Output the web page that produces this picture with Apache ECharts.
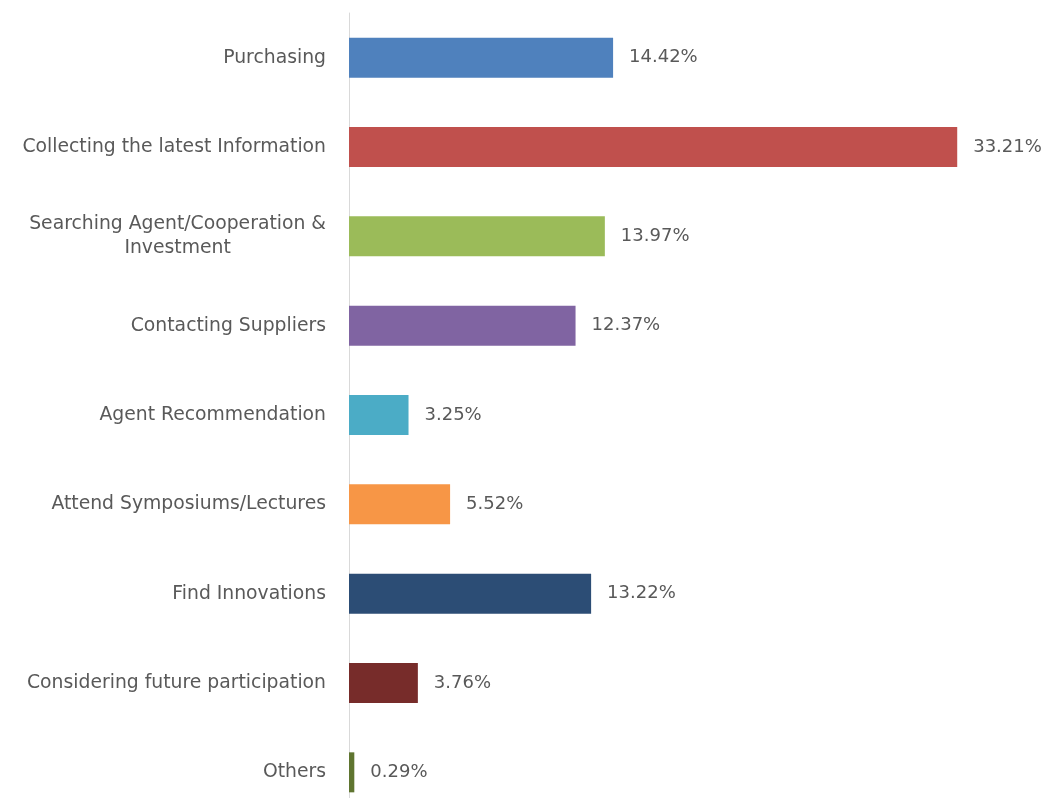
<!DOCTYPE html>
<html>
<head>
<meta charset="utf-8">
<script src="https://cdn.jsdelivr.net/npm/echarts@6/dist/echarts.min.js"></script>
<style>
html,body{margin:0;padding:0;background:#fff;}
#chart{width:1048px;height:798px;}
</style>
</head>
<body>
<div id="chart"></div>
<script>
const categories = [
  "Purchasing",
  "Collecting the latest Information",
  "Searching Agent/Cooperation &\nInvestment",
  "Contacting Suppliers",
  "Agent Recommendation",
  "Attend Symposiums/Lectures",
  "Find Innovations",
  "Considering future participation",
  "Others"
];
const values = [14.42, 33.21, 13.97, 12.37, 3.25, 5.52, 13.22, 3.76, 0.29];
const colors = ["#4F81BD", "#C0504D", "#9BBB59", "#8064A2", "#4BACC6", "#F79646", "#2C4D75", "#772C2A", "#5F7530"];

const chart = echarts.init(document.getElementById('chart'), null, {renderer: 'canvas'});
const font = "'DejaVu Sans', sans-serif";
chart.setOption({
  animation: false,
  backgroundColor: '#ffffff',
  grid: {left: 349, top: 13, width: 641, height: 804, containLabel: false, outerBoundsMode: 'none'},
  xAxis: {
    type: 'value', min: 0, max: 35, show: false
  },
  yAxis: {
    type: 'category',
    inverse: true,
    data: categories,
    axisLine: {show: true, lineStyle: {color: '#D9D9D9', width: 1}},
    axisTick: {show: false},
    axisLabel: {
      margin: 23,
      formatter: function (v) {
        return v.split('\n').map(function (l) { return '{c|' + l + '}'; }).join('\n');
      },
      rich: {
        c: {align: 'center', fontSize: 18.8, fontFamily: font, color: '#595959', lineHeight: 24}
      }
    }
  },
  series: [{
    type: 'bar',
    data: values.map(function (v, i) { return {value: v, itemStyle: {color: colors[i]}}; }),
    barWidth: 40,
    label: {
      show: true,
      position: 'right',
      distance: 16,
      fontSize: 18,
      fontFamily: font,
      color: '#595959',
      formatter: function (p) { return p.value.toFixed(2) + '%'; }
    }
  }]
});
</script>
</body>
</html>
